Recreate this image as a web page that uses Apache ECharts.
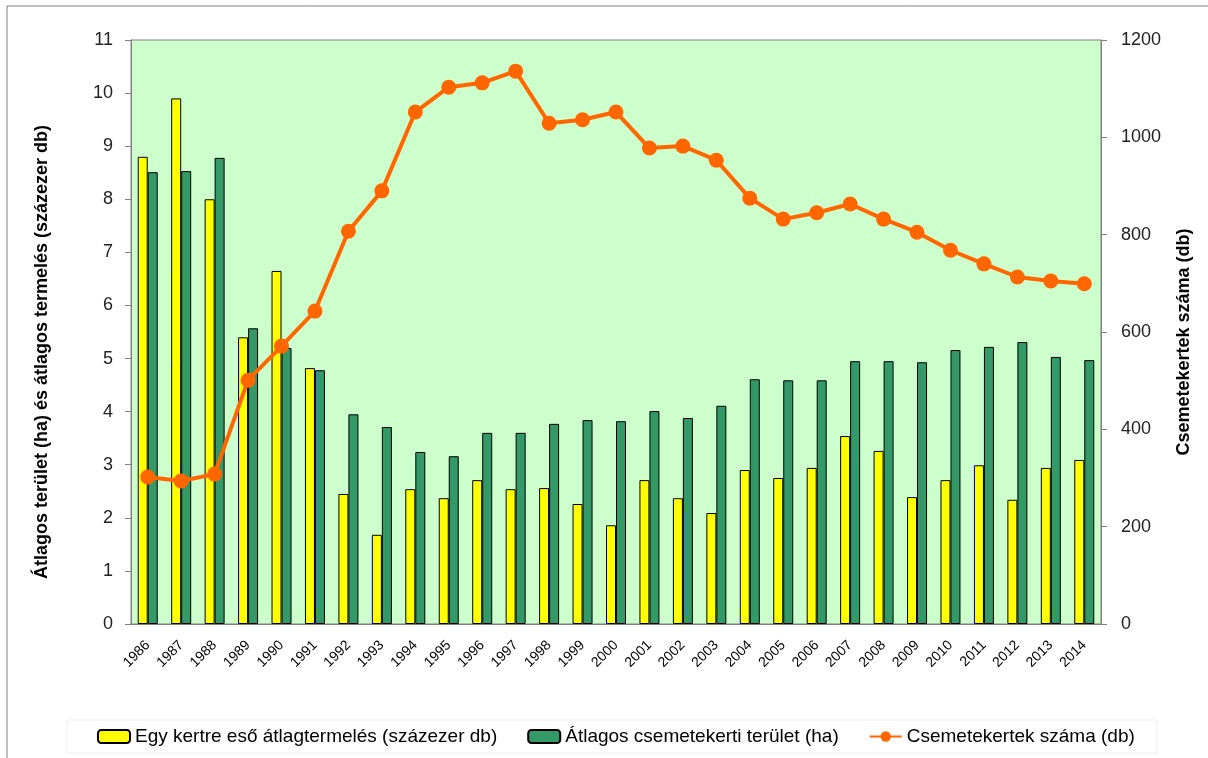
<!DOCTYPE html>
<html>
<head>
<meta charset="utf-8">
<title>Csemetekertek</title>
<script src="https://cdn.jsdelivr.net/npm/echarts@6/dist/echarts.min.js"></script>
<style>
html, body { margin: 0; padding: 0; background: #fff; }
#chart { width: 1208px; height: 758px; }
</style>
</head>
<body>
<div id="chart"></div>
<script>
var years = ['1986','1987','1988','1989','1990','1991','1992','1993','1994','1995',
    '1996','1997','1998','1999','2000','2001','2002','2003','2004','2005',
    '2006','2007','2008','2009','2010','2011','2012','2013','2014'];

// egy kertre eső átlagtermelés (százezer db)
var termeles = [8.8, 9.9, 8.0, 5.4, 6.65, 4.82, 2.45, 1.68, 2.54, 2.37,
    2.71, 2.54, 2.56, 2.26, 1.86, 2.71, 2.37, 2.09, 2.9, 2.75,
    2.94, 3.54, 3.26, 2.39, 2.71, 2.99, 2.34, 2.94, 3.09];

// átlagos csemetekerti terület (ha)
var terulet = [8.51, 8.53, 8.78, 5.57, 5.2, 4.78, 3.95, 3.71, 3.24, 3.16,
    3.6, 3.6, 3.77, 3.84, 3.82, 4.01, 3.88, 4.11, 4.61, 4.59,
    4.59, 4.95, 4.95, 4.93, 5.16, 5.22, 5.31, 5.03, 4.97];

// csemetekertek száma (db)
var kertekSzama = [302, 294, 308, 501, 571, 643, 807, 890, 1052, 1103,
    1112, 1136, 1029, 1036, 1052, 978, 982, 953, 875, 832,
    845, 863, 832, 805, 768, 740, 713, 705, 699];

var leftTicks = [0, 11, 1];
var rightTicks = [0, 1200, 200];

var font = 'Liberation Sans, Arial, sans-serif';

var option = {
    animation: false,
    textStyle: { fontFamily: font },
    graphic: [{
        type: 'rect',
        shape: { x: 7, y: 6, width: 1300, height: 900 },
        style: { fill: 'none', stroke: '#7f7f7f', lineWidth: 1 },
        silent: true
    }],
    grid: {
        left: 131, right: 107, top: 40, bottom: 134,
        show: true,
        backgroundColor: '#CCFFCC',
        borderColor: '#808080',
        borderWidth: 1
    },
    legend: {
        bottom: 5,
        left: 67,
        padding: [7, 22, 7, 30],
        backgroundColor: '#fff',
        borderColor: '#eeeeee',
        borderWidth: 1,
        itemGap: 30,
        itemWidth: 32,
        itemHeight: 13,
        textStyle: { fontSize: 19, color: '#000', fontFamily: font },
        data: [
            { name: 'Egy kertre eső átlagtermelés (százezer db)' },
            { name: 'Átlagos csemetekerti terület (ha)' },
            { name: 'Csemetekertek száma (db)' }
        ]
    },
    xAxis: {
        type: 'category',
        data: years,
        boundaryGap: true,
        axisLine: { lineStyle: { color: '#808080' } },
        axisTick: { length: 6, lineStyle: { color: '#808080' } },
        axisLabel: {
            rotate: 45,
            fontSize: 14,
            color: '#000',
            margin: 19,
            interval: 0
        }
    },
    yAxis: [{
        type: 'value',
        min: leftTicks[0], max: leftTicks[1], interval: leftTicks[2],
        name: 'Átlagos terület (ha) és átlagos termelés (százezer db)',
        nameLocation: 'middle',
        nameGap: 80,
        nameTextStyle: { fontSize: 18, fontWeight: 'bold', color: '#000', padding: [0, 40, 0, 0] },
        axisLine: { show: true, lineStyle: { color: '#808080' } },
        axisTick: { show: true, length: 6, lineStyle: { color: '#808080' } },
        axisLabel: { fontSize: 18, color: '#222', margin: 18 },
        splitLine: { show: false }
    }, {
        type: 'value',
        min: rightTicks[0], max: rightTicks[1], interval: rightTicks[2],
        name: 'Csemetekertek száma (db)',
        nameLocation: 'middle',
        nameGap: 74,
        nameTextStyle: { fontSize: 18, fontWeight: 'bold', color: '#000', padding: [0, 20, 0, 0] },
        axisLine: { show: true, lineStyle: { color: '#808080' } },
        axisTick: { show: true, length: 6, lineStyle: { color: '#808080' } },
        axisLabel: { fontSize: 18, color: '#222', margin: 20, formatter: function (v) { return String(v); } },
        splitLine: { show: false }
    }],
    series: [{
        name: 'Egy kertre eső átlagtermelés (százezer db)',
        type: 'bar',
        yAxisIndex: 0,
        barWidth: 10,
        barGap: '0%',
        itemStyle: { color: '#FFFF00', borderColor: '#000', borderWidth: 1 },
        data: termeles
    }, {
        name: 'Átlagos csemetekerti terület (ha)',
        type: 'bar',
        yAxisIndex: 0,
        barWidth: 10,
        itemStyle: { color: '#339966', borderColor: '#000', borderWidth: 1 },
        data: terulet
    }, {
        name: 'Csemetekertek száma (db)',
        type: 'line',
        yAxisIndex: 1,
        symbol: 'circle',
        symbolSize: 15,
        lineStyle: { color: '#FF6600', width: 4 },
        itemStyle: { color: '#FF6600' },
        data: kertekSzama
    }]
};

var chart = echarts.init(document.getElementById('chart'));
chart.setOption(option);
</script>
</body>
</html>
